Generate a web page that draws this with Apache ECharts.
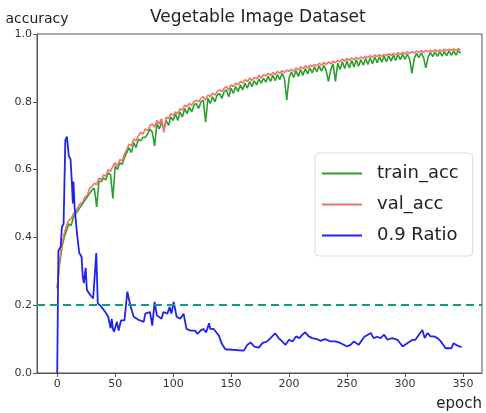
<!DOCTYPE html>
<html>
<head>
<meta charset="utf-8">
<script src="https://cdn.jsdelivr.net/npm/echarts@6/dist/echarts.min.js"></script>
<style>
  html, body { margin: 0; padding: 0; background: #fff; }
  #chart { width: 486px; height: 413px; }
</style>
</head>
<body>
<div id="chart"></div>
<script>
// accuracy sampled every 2 epochs (0, 2, ..., 348)
var epochStep = 2;
var trainAcc = [
  0.25, 0.32, 0.37, 0.40, 0.42, 0.44, 0.435, 0.46, 0.47, 0.48,
  0.49, 0.50, 0.51, 0.52, 0.53, 0.54, 0.545, 0.49, 0.565, 0.565,
  0.575, 0.57, 0.59, 0.585, 0.515, 0.61, 0.60, 0.62, 0.615, 0.635,
  0.65, 0.665, 0.65, 0.68, 0.665, 0.69, 0.685, 0.695, 0.695, 0.705,
  0.72, 0.71, 0.67, 0.735, 0.72, 0.74, 0.72, 0.745, 0.73, 0.755,
  0.745, 0.765, 0.745, 0.77, 0.755, 0.78, 0.765, 0.785, 0.77, 0.79,
  0.795, 0.78, 0.80, 0.805, 0.74, 0.81, 0.795, 0.815, 0.80, 0.82,
  0.825, 0.81, 0.83, 0.835, 0.815, 0.84, 0.825, 0.845, 0.83, 0.85,
  0.835, 0.855, 0.84, 0.86, 0.845, 0.862, 0.85, 0.868, 0.855, 0.87,
  0.858, 0.875, 0.86, 0.878, 0.862, 0.88, 0.865, 0.884, 0.868, 0.805,
  0.87, 0.888, 0.872, 0.892, 0.875, 0.895, 0.878, 0.898, 0.882, 0.90,
  0.885, 0.903, 0.888, 0.906, 0.89, 0.908, 0.892, 0.86, 0.895, 0.912,
  0.86, 0.914, 0.895, 0.918, 0.898, 0.92, 0.90, 0.922, 0.903, 0.924,
  0.905, 0.925, 0.908, 0.928, 0.91, 0.93, 0.912, 0.932, 0.915, 0.933,
  0.917, 0.934, 0.918, 0.936, 0.92, 0.937, 0.922, 0.939, 0.924, 0.94,
  0.925, 0.941, 0.926, 0.884, 0.928, 0.943, 0.93, 0.944, 0.931, 0.90,
  0.932, 0.946, 0.933, 0.947, 0.934, 0.948, 0.935, 0.949, 0.936, 0.95,
  0.937, 0.95, 0.938, 0.951, 0.943
];
var valAcc = [
  0.25, 0.33, 0.38, 0.41, 0.435, 0.45, 0.455, 0.47, 0.475, 0.49,
  0.50, 0.505, 0.52, 0.525, 0.545, 0.55, 0.56, 0.555, 0.575, 0.57,
  0.585, 0.58, 0.60, 0.595, 0.61, 0.62, 0.61, 0.63, 0.625, 0.645,
  0.66, 0.675, 0.67, 0.69, 0.685, 0.70, 0.71, 0.705, 0.72, 0.715,
  0.73, 0.735, 0.725, 0.745, 0.735, 0.75, 0.71, 0.755, 0.75, 0.765,
  0.76, 0.77, 0.765, 0.78, 0.775, 0.79, 0.785, 0.795, 0.79, 0.80,
  0.805, 0.80, 0.81, 0.815, 0.805, 0.82, 0.815, 0.825, 0.82, 0.83,
  0.835, 0.83, 0.84, 0.845, 0.835, 0.85, 0.845, 0.855, 0.85, 0.86,
  0.855, 0.865, 0.86, 0.87, 0.862, 0.872, 0.868, 0.878, 0.87, 0.88,
  0.876, 0.884, 0.878, 0.886, 0.88, 0.89, 0.884, 0.892, 0.886, 0.893,
  0.89, 0.896, 0.89, 0.90, 0.894, 0.903, 0.898, 0.906, 0.90, 0.908,
  0.904, 0.91, 0.906, 0.914, 0.908, 0.916, 0.91, 0.918, 0.912, 0.92,
  0.915, 0.922, 0.918, 0.926, 0.92, 0.928, 0.922, 0.93, 0.924, 0.931,
  0.926, 0.932, 0.928, 0.935, 0.93, 0.936, 0.932, 0.938, 0.933, 0.939,
  0.934, 0.94, 0.936, 0.942, 0.937, 0.943, 0.938, 0.945, 0.94, 0.946,
  0.941, 0.947, 0.943, 0.948, 0.944, 0.95, 0.945, 0.951, 0.946, 0.952,
  0.947, 0.952, 0.948, 0.954, 0.949, 0.953, 0.95, 0.955, 0.951, 0.955,
  0.952, 0.956, 0.951, 0.957, 0.953
];
// 0.9 Ratio, read at its turning points
var ratioEpoch = [
  0, 1, 3, 4, 5.5, 7, 8.4, 10, 11.5, 12.5, 13, 13.5, 14, 15, 17, 19, 21, 22, 23, 24.5,
  25.6, 28.5, 31, 32.5, 33.7, 35, 37, 41.5, 44, 46, 47, 48, 49, 51.5, 53, 55, 58, 60.5, 63, 66,
  70, 74.6, 76, 80, 82, 84, 86, 87.6, 90, 91.6, 95, 97, 98.5, 100.5, 103, 106, 109, 111.5, 115, 119,
  121, 123.6, 126, 128.5, 131, 132, 135, 139.5, 142, 145, 161, 164, 167, 170, 174, 177, 181, 184, 188, 191,
  194, 197, 200, 203, 206, 209, 211.5, 214, 217, 220, 224, 227, 231, 236, 240, 244.6, 250, 253, 256, 260,
  265, 268, 270.5, 273, 276, 279, 282, 285, 289, 293.6, 298, 302, 306.5, 309, 312, 315, 317, 319.5, 322, 325,
  328, 331, 335, 340, 342, 344, 347, 349
];
var ratioVal = [
  0.0, 0.36, 0.373, 0.43, 0.44, 0.687, 0.697, 0.64, 0.63, 0.57, 0.57, 0.50, 0.565, 0.49, 0.413, 0.354, 0.343, 0.284, 0.265, 0.31,
  0.245, 0.23, 0.22, 0.215, 0.354, 0.205, 0.2, 0.18, 0.166, 0.132, 0.16, 0.13, 0.122, 0.151, 0.125, 0.155, 0.155, 0.24, 0.2, 0.166,
  0.157, 0.151, 0.175, 0.18, 0.14, 0.21, 0.17, 0.175, 0.16, 0.18, 0.175, 0.195, 0.175, 0.21, 0.166, 0.16, 0.175, 0.13, 0.125, 0.125,
  0.115, 0.125, 0.13, 0.12, 0.147, 0.13, 0.13, 0.11, 0.086, 0.07, 0.066, 0.083, 0.09, 0.078, 0.075, 0.088, 0.093, 0.103, 0.117, 0.103,
  0.093, 0.083, 0.098, 0.093, 0.108, 0.103, 0.113, 0.12, 0.108, 0.103, 0.1, 0.095, 0.1, 0.093, 0.093, 0.088, 0.078, 0.083, 0.093, 0.083,
  0.107, 0.113, 0.118, 0.103, 0.107, 0.103, 0.113, 0.098, 0.103, 0.098, 0.078, 0.088, 0.098, 0.098, 0.113, 0.127, 0.103, 0.118, 0.108, 0.108,
  0.103, 0.093, 0.073, 0.073, 0.088, 0.083, 0.078, 0.078
];
var xTicks = [0, 50, 100, 150, 200, 250, 300, 350];
var threshold = 0.2;

var font = 'DejaVu Sans';

function pairs(vals) {
  return vals.map(function(v, i) { return [i * epochStep, v]; });
}

var chart = echarts.init(document.getElementById('chart'));
chart.setOption({
  animation: false,
  backgroundColor: '#fff',
  title: {
    text: 'Vegetable Image Dataset',
    left: 150,
    top: 9,
    padding: 0,
    textStyle: { fontFamily: font, fontSize: 17, fontWeight: 'normal', color: '#222' }
  },
  legend: {
    orient: 'vertical',
    left: 315,
    top: 153,
    padding: [10, 14, 10, 7],
    itemWidth: 40,
    itemHeight: 2,
    itemGap: 10,
    icon: 'rect',
    backgroundColor: '#fff',
    borderColor: '#ddd',
    borderWidth: 1,
    borderRadius: 4,
    textStyle: { fontFamily: font, fontSize: 18, lineHeight: 21, color: '#222', padding: [0, 0, 0, 10] },
    data: ['train_acc', 'val_acc', '0.9 Ratio']
  },
  grid: {
    left: 37, right: 4, top: 34, bottom: 40,
    show: true, borderColor: '#555', borderWidth: 1
  },
  xAxis: {
    type: 'value',
    min: -17.45,
    max: 366.45,
    name: 'epoch',
    nameLocation: 'end',
    nameGap: 0,
    nameTextStyle: { fontFamily: font, fontSize: 15, color: '#222', align: 'right', verticalAlign: 'top', padding: [24, 0, 0, 0] },
    axisLine: { show: true, onZero: false, lineStyle: { color: '#555' } },
    axisTick: { show: true, inside: false, length: 4, customValues: xTicks, lineStyle: { color: '#555' } },
    axisLabel: { customValues: xTicks, fontFamily: font, fontSize: 11, color: '#333', margin: 6 },
    splitLine: { show: false }
  },
  yAxis: {
    type: 'value',
    min: 0,
    max: 1,
    interval: 0.2,
    name: 'accuracy',
    nameLocation: 'end',
    nameGap: 8,
    nameTextStyle: { fontFamily: font, fontSize: 14, color: '#222', align: 'center', verticalAlign: 'bottom' },
    axisLine: { show: true, onZero: false, lineStyle: { color: '#555' } },
    axisTick: { show: true, inside: false, length: 4, lineStyle: { color: '#555' } },
    axisLabel: {
      fontFamily: font, fontSize: 11, color: '#333', margin: 5,
      formatter: function(v) { return v.toFixed(1); }
    },
    splitLine: { show: false }
  },
  series: [
    {
      name: 'train_acc',
      type: 'line',
      data: pairs(trainAcc),
      showSymbol: false,
      color: '#2ca02c',
      lineStyle: { width: 1.6, color: '#2ca02c' }
    },
    {
      name: 'val_acc',
      type: 'line',
      data: pairs(valAcc),
      showSymbol: false,
      color: '#f2716b',
      lineStyle: { width: 1.6, color: '#f2716b' }
    },
    {
      name: '0.9 Ratio',
      type: 'line',
      data: ratioEpoch.map(function(e, i) { return [e, ratioVal[i]]; }),
      showSymbol: false,
      color: '#2222ee',
      lineStyle: { width: 1.8, color: '#2222ee' },
      markLine: {
        silent: true,
        symbol: 'none',
        label: { show: false },
        lineStyle: { type: [8, 5], width: 2, color: '#17998a' },
        data: [{ yAxis: threshold }]
      }
    }
  ]
});
</script>
</body>
</html>
